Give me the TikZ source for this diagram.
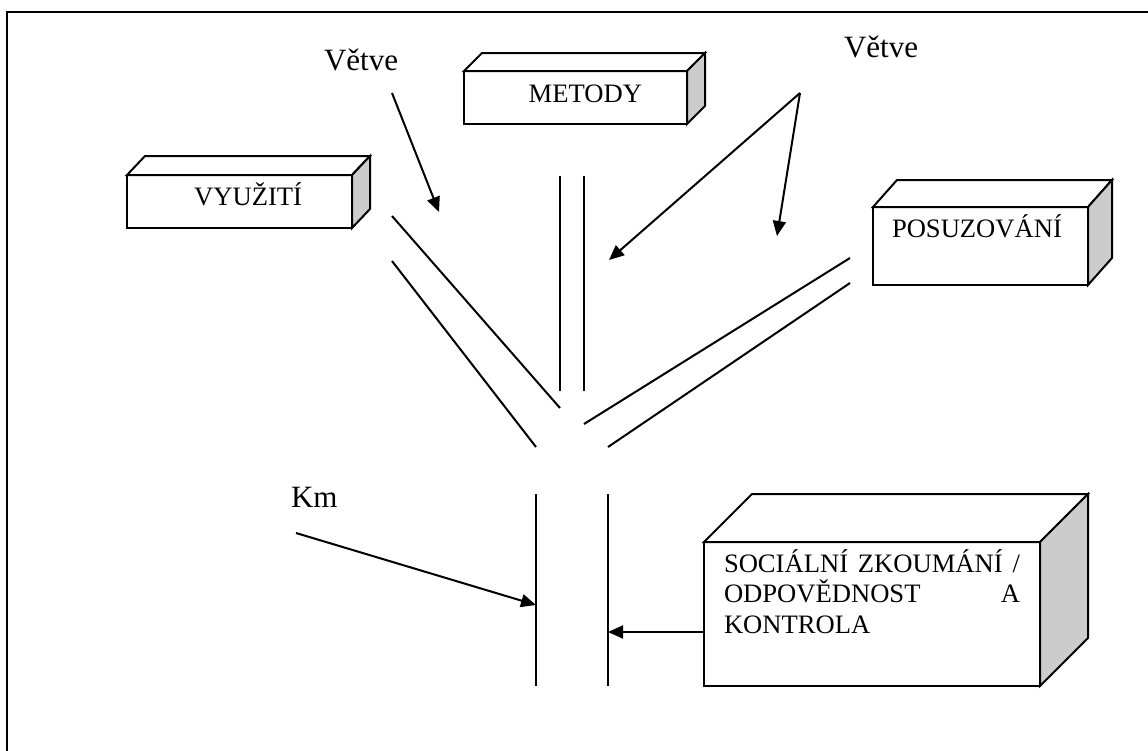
\documentclass[tikz,border=0pt]{standalone}
\usepackage{fontspec}
\setmainfont{Liberation Serif}
\usetikzlibrary{arrows.meta}
% top and side faces of a box node
\newcommand{\cubefaces}[3]{%
  \draw[fill=white] (#1.north west) -- ++(#2,-#3) -- ([shift={(#2,-#3)}]#1.north east) -- (#1.north east) -- cycle;
  \draw[fill=gray!40] (#1.north east) -- ++(#2,-#3) -- ([shift={(#2,-#3)}]#1.south east) -- (#1.south east) -- cycle;}
\begin{document}
\begin{tikzpicture}[x=0.5pt,y=-0.5pt,line width=1pt,
    cube/.style={draw,fill=white,anchor=north west,inner ysep=0pt,outer sep=0pt,
      font=\fontsize{13.3}{15.25}\selectfont},
    tag/.style={anchor=base west,inner sep=0pt,font=\fontsize{15.5}{18}\selectfont},
    pointer/.style={-{Triangle[length=7.5pt,width=6.5pt]}}]
  \useasboundingbox (0,0) rectangle (1148,751);
  \clip (0,0) rectangle (1148,751);
  \draw (7,12) rectangle (1200,800);

  \node[cube,inner xsep=25pt,text width=62.5pt,align=right,text height=15pt,text depth=11.5pt] (V) at (127,175) {VYUŽITÍ};
  \node[cube,inner xsep=22.5pt,text width=66.5pt,align=right,text height=15.5pt,text depth=11pt] (M) at (464,71) {METODY};
  \node[cube,inner xsep=9.5pt,text width=88.5pt,align=left,text height=15pt,text depth=24pt] (P) at (873,207) {POSUZOVÁNÍ};
  \node[cube,inner xsep=10pt,text width=148pt,align=left,text height=15pt,text depth=57pt] (S) at (704,542)
    {SOCIÁLNÍ\hfill ZKOUMÁNÍ\hfill /\\ODPOVĚDNOST\hfill A\\KONTROLA};
  \cubefaces{V}{18}{19}
  \cubefaces{M}{18}{18}
  \cubefaces{P}{24}{27}
  \cubefaces{S}{48}{48}

  \node[tag] (W1) at (323,70) {Větve};
  \node[tag] (W2) at (843,57) {Větve};
  \node[tag] (K) at (290,507) {Km};

  % branches
  \coordinate (A1) at (392,216); \coordinate (A2) at (560,408);
  \coordinate (B1) at (392,261); \coordinate (B2) at (536,447);
  \coordinate (C1) at (560,176); \coordinate (C2) at (560,391);
  \coordinate (D1) at (584,176); \coordinate (D2) at (584,391);
  \coordinate (E1) at (850,258); \coordinate (E2) at (584,424);
  \coordinate (F1) at (850,283); \coordinate (F2) at (608,447);
  \coordinate (G1) at (536,494); \coordinate (G2) at (536,686);
  \coordinate (H1) at (608,494); \coordinate (H2) at (608,686);
  \draw (A1) -- (A2);
  \draw (B1) -- (B2);
  \draw (C1) -- (C2);
  \draw (D1) -- (D2);
  \draw (E1) -- (E2);
  \draw (F1) -- (F2);
  \draw (G1) -- (G2);
  \draw (H1) -- (H2);

  % arrows
  \coordinate (L0) at (392,93);  \coordinate (L1) at (439,212);
  \coordinate (R0) at (800,93);  \coordinate (R1) at (609,260);
  \coordinate (R2) at (777,236);
  \coordinate (K0) at (296,533); \coordinate (K1) at (536,605);
  \coordinate (S1) at (608,632);
  \draw[pointer] (L0) -- (L1);
  \draw[pointer] (R0) -- (R1);
  \draw[pointer] (R0) -- (R2);
  \draw[pointer] (K0) -- (K1);
  \draw[pointer] ([yshift=-45pt]S.north west) -- (S1);
\end{tikzpicture}
\end{document}
